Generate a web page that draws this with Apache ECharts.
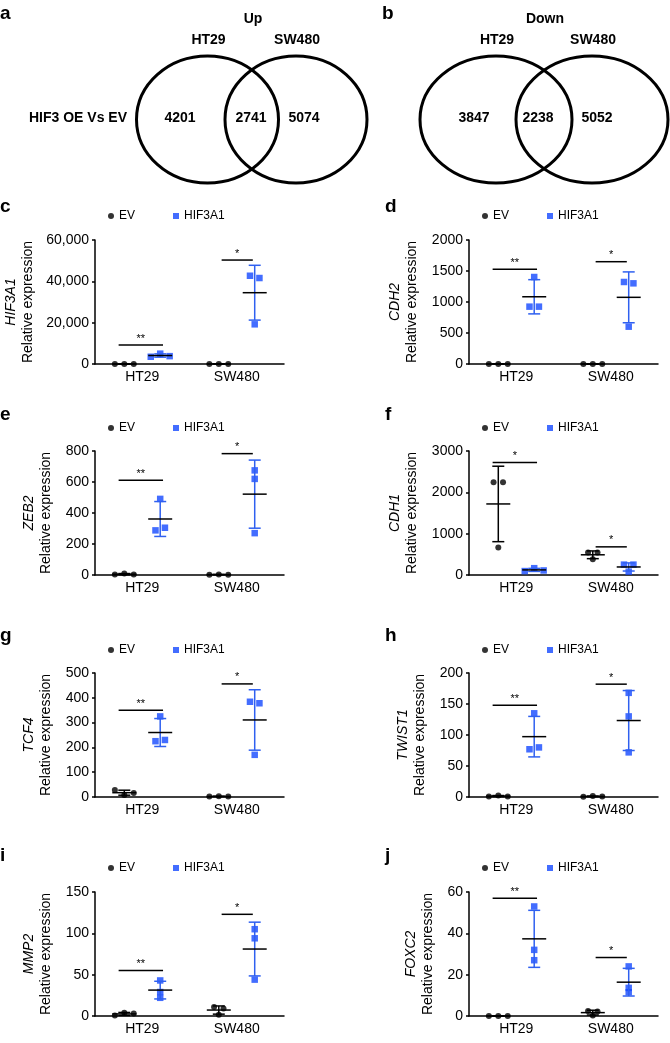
<!DOCTYPE html>
<html>
<head>
<meta charset="utf-8">
<script src="https://cdn.jsdelivr.net/npm/echarts@6/dist/echarts.min.js"></script>
<style>
  html, body { margin: 0; padding: 0; background: #fff; }
  #fig { width: 670px; height: 1043px; }
</style>
</head>
<body>
<div id="fig"></div>
<script>
// ---- data ----
var categories = ['HT29', 'SW480'];
var groups = ['EV', 'HIF3A1'];

// Venn counts: [HT29 only, both, SW480 only]
var vennUp = [4201, 2741, 5074];
var vennDown = [3847, 2238, 5052];

// replicate values, one row per cell line [HT29, SW480]
var hif3a1Ticks = [0, 20000, 40000, 60000];
var hif3a1EV = [[0, 0, 0], [0, 0, 0]];
var hif3a1OE = [[3500, 5000, 3800], [42700, 41600, 19200]];
var hif3a1Sig = [['**', 9200], ['*', 50300]];

var cdh2Ticks = [0, 500, 1000, 1500, 2000];
var cdh2EV = [[0, 0, 0], [0, 0, 0]];
var cdh2OE = [[1403, 925, 925], [1323, 1301, 602]];
var cdh2Sig = [['**', 1527], ['*', 1650]];

var zeb2Ticks = [0, 200, 400, 600, 800];
var zeb2EV = [[3, 10, 3], [2, 4, 2]];
var zeb2OE = [[491, 288, 305], [675, 620, 270]];
var zeb2Sig = [['**', 612], ['*', 783]];

var cdh1Ticks = [0, 1000, 2000, 3000];
var cdh1EV = [[2246, 2246, 665], [543, 543, 381]];
var cdh1OE = [[95, 165, 110], [251, 251, 81]];
var cdh1Sig = [['*', 2724], ['*', 681]];

var tcf4Ticks = [0, 100, 200, 300, 400, 500];
var tcf4EV = [[28, 8, 16], [2, 3, 2]];
var tcf4OE = [[325, 225, 230], [384, 378, 170]];
var tcf4Sig = [['**', 350], ['*', 456]];

var twist1Ticks = [0, 50, 100, 150, 200];
var twist1EV = [[1, 2.5, 1], [0.5, 1.5, 1]];
var twist1OE = [[135, 77, 80], [168, 130, 72]];
var twist1Sig = [['**', 148], ['*', 182]];

var mmp2Ticks = [0, 50, 100, 150];
var mmp2EV = [[0.5, 4, 3], [11, 9, 1.6]];
var mmp2OE = [[43, 29, 22], [105, 94, 44]];
var mmp2Sig = [['**', 55], ['*', 123]];

var foxc2Ticks = [0, 20, 40, 60];
var foxc2EV = [[0, 0, 0], [2.4, 2.2, 0.3]];
var foxc2OE = [[53, 32, 27], [24, 13.6, 11.5]];
var foxc2Sig = [['**', 57], ['*', 28.3]];

// ---- layout / style ----
var FONT = '"Liberation Sans", Arial, Helvetica, sans-serif';
var NARROW = '"Liberation Sans Narrow", "Arial Narrow", "Liberation Sans", sans-serif';
var BLUE = '#1448ff';
var BLUE_BAR = '#2f60f0';

var colLeft = [95, 469];
var colRight = [386, 12];
var rowTop = [240, 451, 673, 892];
var plotH = 124;
var letterY = [208, 416, 637, 857];
var legendTop = [210, 422, 644, 862];
var groupOff = [-0.19, 0.19];
var sigSpans = [[-0.25, 0.22], [-0.16, 0.17]];

var panels = [
    {letter: 'c', gene: 'HIF3A1', ticks: hif3a1Ticks, ev: hif3a1EV, oe: hif3a1OE, sig: hif3a1Sig, col: 0, row: 0, gap: 58, comma: true},
    {letter: 'd', gene: 'CDH2', ticks: cdh2Ticks, ev: cdh2EV, oe: cdh2OE, sig: cdh2Sig, col: 1, row: 0, gap: 48},
    {letter: 'e', gene: 'ZEB2', ticks: zeb2Ticks, ev: zeb2EV, oe: zeb2OE, sig: zeb2Sig, col: 0, row: 1, gap: 40},
    {letter: 'f', gene: 'CDH1', ticks: cdh1Ticks, ev: cdh1EV, oe: cdh1OE, sig: cdh1Sig, col: 1, row: 1, gap: 48},
    {letter: 'g', gene: 'TCF4', ticks: tcf4Ticks, ev: tcf4EV, oe: tcf4OE, sig: tcf4Sig, col: 0, row: 2, gap: 40},
    {letter: 'h', gene: 'TWIST1', ticks: twist1Ticks, ev: twist1EV, oe: twist1OE, sig: twist1Sig, col: 1, row: 2, gap: 40},
    {letter: 'i', gene: 'MMP2', ticks: mmp2Ticks, ev: mmp2EV, oe: mmp2OE, sig: mmp2Sig, col: 0, row: 3, gap: 40},
    {letter: 'j', gene: 'FOXC2', ticks: foxc2Ticks, ev: foxc2EV, oe: foxc2OE, sig: foxc2Sig, col: 1, row: 3, gap: 32}
];

function mean(a) {
    var s = 0;
    a.forEach(function (v) { s += v; });
    return s / a.length;
}
function sd(a) {
    var m = mean(a), s = 0;
    a.forEach(function (v) { s += (v - m) * (v - m); });
    return Math.sqrt(s / (a.length - 1));
}
// spread overlapping replicates sideways, like a scatter dot plot
function spread(vals, range) {
    var idx = vals.map(function (v, i) { return i; }).sort(function (a, b) { return vals[a] - vals[b]; });
    var clusters = [[idx[0]]];
    for (var k = 1; k < idx.length; k++) {
        if (vals[idx[k]] - vals[idx[k - 1]] < 0.03 * range) clusters[clusters.length - 1].push(idx[k]);
        else clusters.push([idx[k]]);
    }
    var off = [];
    clusters.forEach(function (c) {
        c.sort(function (a, b) { return a - b; });
        c.forEach(function (m, j) { off[m] = (j - (c.length - 1) / 2) * 0.1; });
    });
    return off;
}

var grids = [], xAxes = [], yAxes = [], series = [], legends = [], graphics = [];

panels.forEach(function (p, n) {
    var ymax = p.ticks[p.ticks.length - 1];
    grids.push({left: colLeft[p.col], right: colRight[p.col], top: rowTop[p.row], height: plotH});
    xAxes.push({
        type: 'category', gridIndex: n, data: categories,
        axisLine: {lineStyle: {color: '#000', width: 1.5}},
        axisTick: {alignWithLabel: true, length: 3, lineStyle: {color: '#000', width: 1.5}},
        axisLabel: {color: '#000', fontSize: 14, fontFamily: FONT, margin: 6}
    });
    xAxes.push({type: 'value', gridIndex: n, min: 0, max: 2, show: false});
    yAxes.push({
        type: 'value', gridIndex: n, min: p.ticks[0], max: ymax, interval: p.ticks[1] - p.ticks[0],
        name: '{g|' + p.gene + '}\n{r|Relative expression}',
        nameLocation: 'middle', nameRotate: 90, nameGap: p.gap,
        nameTextStyle: {
            color: '#000', fontSize: 14, fontFamily: FONT, lineHeight: 17,
            rich: {
                g: {fontStyle: 'italic', fontSize: 14, fontFamily: FONT, lineHeight: 17, color: '#000'},
                r: {fontSize: 14, fontFamily: FONT, lineHeight: 17, color: '#000'}
            }
        },
        axisLine: {show: true, lineStyle: {color: '#000', width: 1.5}},
        axisTick: {show: true, length: 3, lineStyle: {color: '#000', width: 1.5}},
        splitLine: {show: false},
        axisLabel: {
            color: '#000', fontSize: 14, fontFamily: FONT, margin: 6,
            formatter: p.comma ? function (v) { return v.toLocaleString('en-US'); } : function (v) { return String(v); }
        }
    });

    var sets = [p.ev, p.oe];
    var bars = [];
    sets.forEach(function (set, g) {
        var pts = [];
        set.forEach(function (vals, c) {
            var off = spread(vals, ymax);
            vals.forEach(function (v, k) {
                pts.push([c + 0.5 + groupOff[g] + off[k], v]);
            });
            bars.push([c + 0.5 + groupOff[g], mean(vals), sd(vals), g]);
        });
        series.push({
            name: groups[g], type: 'scatter', xAxisIndex: 2 * n + 1, yAxisIndex: n,
            symbol: g === 0 ? 'circle' : 'rect', symbolSize: g === 0 ? 6 : 6.5,
            itemStyle: {color: g === 0 ? '#000' : BLUE},
            data: pts, z: 3
        });
    });

    // mean line with SD whiskers
    series.push({
        type: 'custom', xAxisIndex: 2 * n + 1, yAxisIndex: n, z: 4,
        data: bars,
        renderItem: function (params, api) {
            var x = api.value(0), m = api.value(1), s = api.value(2), g = api.value(3);
            var c = api.coord([x, m]);
            var top = api.coord([x, m + s])[1];
            var bot = api.coord([x, Math.max(0, m - s)])[1];
            var col = g === 0 ? '#000' : BLUE_BAR;
            var lw = 1.5;
            return {
                type: 'group', children: [
                    {type: 'line', shape: {x1: c[0], y1: top, x2: c[0], y2: bot}, style: {stroke: col, lineWidth: lw}},
                    {type: 'line', shape: {x1: c[0] - 6, y1: top, x2: c[0] + 6, y2: top}, style: {stroke: col, lineWidth: lw}},
                    {type: 'line', shape: {x1: c[0] - 6, y1: bot, x2: c[0] + 6, y2: bot}, style: {stroke: col, lineWidth: lw}},
                    {type: 'line', shape: {x1: c[0] - 12, y1: c[1], x2: c[0] + 12, y2: c[1]}, style: {stroke: '#000', lineWidth: lw}}
                ]
            };
        }
    });

    // significance bars
    var sig = p.sig;
    series.push({
        type: 'custom', xAxisIndex: 2 * n + 1, yAxisIndex: n, z: 4,
        data: sig.map(function (s, c) { return [c + 0.5, s[1]]; }),
        renderItem: function (params, api) {
            var c = params.dataIndex;
            var y = api.coord([0, api.value(1)])[1];
            var x0 = api.coord([api.value(0) + sigSpans[c][0], 0])[0];
            var x1 = api.coord([api.value(0) + sigSpans[c][1], 0])[0];
            return {
                type: 'group', children: [
                    {type: 'line', shape: {x1: x0, y1: y, x2: x1, y2: y}, style: {stroke: '#000', lineWidth: 1.5}},
                    {type: 'text', style: {text: sig[c][0], x: (x0 + x1) / 2, y: y - 1, align: 'center', verticalAlign: 'bottom', font: '11px ' + FONT, fill: '#000'}}
                ]
            };
        }
    });

    legends.push({
        data: [{name: 'EV', icon: 'circle'}, {name: 'HIF3A1', icon: 'rect'}],
        left: colLeft[p.col] + 13, top: legendTop[p.row], padding: 0,
        itemWidth: 6, itemHeight: 6, itemGap: 38, selectedMode: false,
        textStyle: {color: '#000', fontSize: 12, fontFamily: FONT}
    });

    graphics.push({
        type: 'text', left: p.col === 0 ? 0 : 385, top: letterY[p.row] - 11,
        style: {text: p.letter, font: 'bold 19px ' + FONT, fill: '#000'}
    });
});

// ---- Venn diagrams (a, b) ----
function venn(counts, title, cx1, cx2, rx, numX, titleX) {
    var cy = 119.5, ry = 63.5;
    graphics.push({type: 'ellipse', shape: {cx: cx1, cy: cy, rx: rx, ry: ry}, style: {fill: 'none', stroke: '#000', lineWidth: 3}});
    graphics.push({type: 'ellipse', shape: {cx: cx2, cy: cy, rx: rx, ry: ry}, style: {fill: 'none', stroke: '#000', lineWidth: 3}});
    graphics.push({type: 'text', style: {text: title, x: titleX, y: 19, align: 'center', verticalAlign: 'middle', font: 'bold 14px ' + NARROW, fill: '#000'}});
    graphics.push({type: 'text', style: {text: categories[0], x: cx1 + 1, y: 40, align: 'center', verticalAlign: 'middle', font: 'bold 14px ' + NARROW, fill: '#000'}});
    graphics.push({type: 'text', style: {text: categories[1], x: cx2 + 1, y: 40, align: 'center', verticalAlign: 'middle', font: 'bold 14px ' + NARROW, fill: '#000'}});
    counts.forEach(function (v, i) {
        graphics.push({type: 'text', style: {text: String(v), x: numX[i], y: 118, align: 'center', verticalAlign: 'middle', font: 'bold 14px ' + NARROW, fill: '#000'}});
    });
}
venn(vennUp, 'Up', 207.5, 296, 71, [180, 251, 304], 253);
venn(vennDown, 'Down', 496, 592, 76, [474, 538, 597], 545);
graphics.push({type: 'text', style: {text: 'HIF3 OE Vs EV', x: 127, y: 118, align: 'right', verticalAlign: 'middle', font: 'bold 14px ' + NARROW, fill: '#000'}});
graphics.push({type: 'text', left: 0, top: 4, style: {text: 'a', font: 'bold 19px ' + FONT, fill: '#000'}});
graphics.push({type: 'text', left: 382, top: 4, style: {text: 'b', font: 'bold 19px ' + FONT, fill: '#000'}});

var myChart = echarts.init(document.getElementById('fig'));
myChart.setOption({
    backgroundColor: '#fff',
    animation: false,
    grid: grids,
    xAxis: xAxes,
    yAxis: yAxes,
    legend: legends,
    graphic: graphics,
    series: series
});
</script>
</body>
</html>
